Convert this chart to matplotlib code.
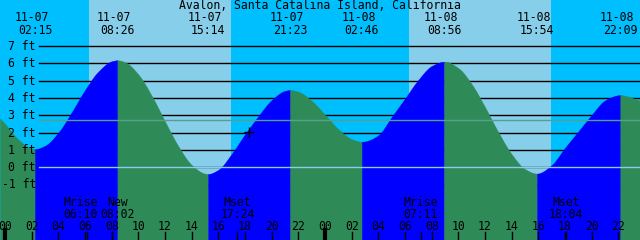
import numpy as np
import matplotlib
matplotlib.use("Agg")
import matplotlib.pyplot as plt

# ---------------- data ----------------
title = "Avalon, Santa Catalina Island, California"
dates = ["11-07", "11-08"]

# tide extremes (header)
event_dates = ["11-07", "11-07", "11-07", "11-07", "11-08", "11-08", "11-08", "11-08"]
event_clock = ["02:15", "08:26", "15:14", "21:23", "02:46", "08:56", "15:54", "22:09"]
event_heights = [1.05, 6.18, -0.39, 4.46, 1.47, 6.10, -0.37, 4.17]
event_kind = ["low", "high", "low", "high", "low", "high", "low", "high"]

# hourly tide heights (ft), hours from 11-07 00:00
curve_hours = list(range(-1, 49))
curve_heights = [3.30, 2.50, 1.60, 1.07, 1.24, 2.00, 3.17, 4.46, 5.53, 6.12,
                 6.07, 5.36, 4.13, 2.64, 1.21, 0.13, -0.37, -0.15, 0.77, 1.90,
                 2.95, 3.88, 4.41, 4.36, 3.84, 3.03, 2.20, 1.62, 1.49, 1.85,
                 2.90, 3.97, 5.05, 5.85, 6.10, 5.73, 4.80, 3.47, 2.02, 0.75,
                 -0.11, -0.36, 0.12, 1.12, 2.07, 3.02, 3.86, 4.16, 4.02, 3.70]

# sun
sunrise = [("11-07", "06:18"), ("11-08", "06:18")]
sunset = [("11-07", "16:57"), ("11-08", "16:57")]

# moon events
moon_labels = ["Mrise", "New", "Mset", "Mrise", "Mset"]
moon_dates = ["11-07", "11-07", "11-07", "11-08", "11-08"]
moon_clock = ["06:10", "08:02", "17:24", "07:11", "18:04"]

# levels
ft_levels = [-1, 0, 1, 2, 3, 4, 5, 6, 7]
msl_level = 2.71
hour_ticks = list(range(0, 24, 2))
mark_time = ("11-07", "18:18")
mark_height = 2.03

# ---------------- colors ----------------
NIGHT = "#00BFFF"
DAY = "#87CEEB"
FLOOD = "#0000FF"
EBB = "#2E8B57"
DATUM = "#8CCBEA"
MSL = "#55A08C"


def to_hours(d, c):
    hh, mm = c.split(":")
    return dates.index(d) * 24 + int(hh) + int(mm) / 60.0


def pchip(x, y, xn):
    """Monotone cubic (Fritsch-Carlson) curve through the given points."""
    x = np.asarray(x, float)
    y = np.asarray(y, float)
    h = np.diff(x)
    delta = np.diff(y) / h
    n = len(x)
    d = np.zeros(n)
    for k in range(1, n - 1):
        if delta[k - 1] * delta[k] > 0:
            w1 = 2 * h[k] + h[k - 1]
            w2 = h[k] + 2 * h[k - 1]
            d[k] = (w1 + w2) / (w1 / delta[k - 1] + w2 / delta[k])
    d[0] = delta[0]
    d[-1] = delta[-1]
    idx = np.clip(np.searchsorted(x, xn) - 1, 0, n - 2)
    hk = h[idx]
    s = (xn - x[idx]) / hk
    h00 = 2 * s**3 - 3 * s**2 + 1
    h10 = s**3 - 2 * s**2 + s
    h01 = -2 * s**3 + 3 * s**2
    h11 = s**3 - s**2
    return h00 * y[idx] + h10 * hk * d[idx] + h01 * y[idx + 1] + h11 * hk * d[idx + 1]


W, H = 640, 240
PX_PER_H = 13.333
X0 = 5  # pixel of 11-07 00:00
xmin = -X0 / PX_PER_H
xmax = (W - X0) / PX_PER_H
PX_PER_FT = 17.3
Y0 = 167.2
ymax = Y0 / PX_PER_FT
ymin = (Y0 - H) / PX_PER_FT

fig = plt.figure(figsize=(6.4, 2.4), dpi=100)
ax = fig.add_axes([0, 0, 1, 1])
ax.set_xlim(xmin, xmax)
ax.set_ylim(ymin, ymax)
ax.set_facecolor(NIGHT)
ax.set_xticks([])
ax.set_yticks([])
for s in ax.spines.values():
    s.set_visible(False)

FONT = dict(family="DejaVu Sans Mono", size=8.3, color="black")
PT = 0.72  # points per pixel

# sky
for (d1, c1), (d2, c2) in zip(sunrise, sunset):
    ax.axvspan(to_hours(d1, c1), to_hours(d2, c2), color=DAY, lw=0, zorder=0)

# grid lines (behind the water)
for lv in ft_levels:
    ax.axhline(lv, xmin=39 / W, xmax=1, color="black", lw=1.0, zorder=1)

# tide curve
ev_t = [to_hours(d, c) for d, c in zip(event_dates, event_clock)]
T = np.array(list(curve_hours) + ev_t, dtype=float)
Hh = np.array(list(curve_heights) + event_heights, dtype=float)
order = np.argsort(T)
T, Hh = T[order], Hh[order]

bounds = [xmin] + ev_t + [xmax]
next_kind = event_kind + ["low"]
for i in range(len(bounds) - 1):
    a, b = bounds[i], bounds[i + 1]
    tt = np.linspace(a, b, 300)
    yy = pchip(T, Hh, tt)
    col = FLOOD if next_kind[i] == "high" else EBB
    ax.fill_between(tt, yy, ymin, color=col, lw=0.3, edgecolor=col, zorder=2)

# datum and MSL lines
ax.axhline(0, xmin=39 / W, xmax=1, color=DATUM, lw=1.0, zorder=3)
ax.axhline(msl_level, xmin=39 / W, xmax=1, color=MSL, lw=1.0, zorder=3)

# marker
ax.plot([to_hours(*mark_time)], [mark_height], marker="+", ms=7, mew=1.0,
        color="black", zorder=5, ls="none")

# y labels
for lv in ft_levels:
    ax.annotate(f"{lv} ft", xy=(36 / W, lv), xycoords=("axes fraction", "data"),
                xytext=(0, -4 * PT), textcoords="offset points",
                ha="right", va="baseline", zorder=6, **FONT)

# title
ax.text(0.5, 1 - 9 / H, title, transform=ax.transAxes, ha="center",
        va="baseline", zorder=6, **FONT)

# header event labels
for t, d, c in zip(ev_t, event_dates, event_clock):
    ax.annotate(d, xy=(t, 1 - 21 / H), xycoords=("data", "axes fraction"),
                xytext=(-3.5 * PT, 0), textcoords="offset points",
                ha="center", va="baseline", zorder=6, **FONT)
    ax.annotate(c, xy=(t, 1 - 34 / H), xycoords=("data", "axes fraction"),
                ha="center", va="baseline", zorder=6, **FONT)

# moon labels
moon_shift = [-6.5, 5, 0.5, 0, 0]
for lab, d, c, sh in zip(moon_labels, moon_dates, moon_clock, moon_shift):
    t = to_hours(d, c)
    ax.annotate(lab, xy=(t, 1 - 206 / H), xycoords=("data", "axes fraction"),
                xytext=(sh * PT, 0), textcoords="offset points",
                ha="center", va="baseline", zorder=6, **FONT)
    ax.annotate(c, xy=(t, 1 - 218 / H), xycoords=("data", "axes fraction"),
                xytext=(sh * PT, 0), textcoords="offset points",
                ha="center", va="baseline", zorder=6, **FONT)
    ax.axvline(t, ymin=0, ymax=8 / H, color="black", lw=1.0, zorder=6)

# hour ticks and labels
for day in range(len(dates)):
    for hh in hour_ticks:
        t = day * 24 + hh
        ax.annotate(f"{hh:02d}", xy=(t, 1 - 230 / H), xycoords=("data", "axes fraction"),
                    ha="center", va="baseline", zorder=6, annotation_clip=False, **FONT)
        if hh == 0:
            ax.axvline(t, ymin=0, ymax=10 / H, color="black", lw=3.0, zorder=6)
        else:
            ax.axvline(t, ymin=0, ymax=8 / H, color="black", lw=1.0, zorder=6)

fig.savefig("out.png", dpi=100)
